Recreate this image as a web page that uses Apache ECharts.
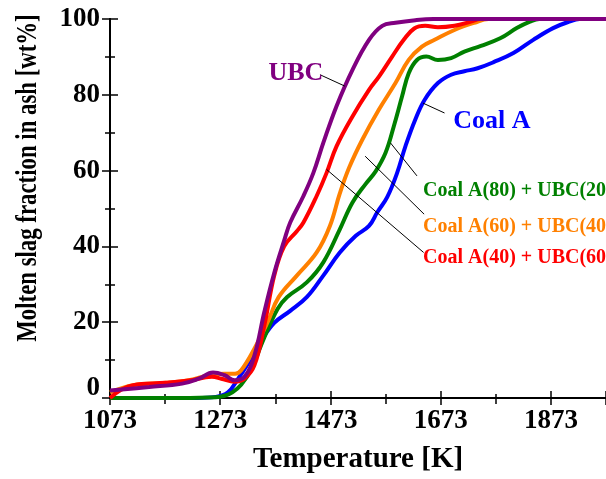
<!DOCTYPE html>
<html>
<head>
<meta charset="utf-8">
<script src="https://cdn.jsdelivr.net/npm/echarts@6/dist/echarts.min.js"></script>
<style>
  html, body { margin: 0; padding: 0; background: #fff; }
  #chart { width: 606px; height: 479px; }
</style>
</head>
<body>
<div id="chart"></div>
<script>
// temperature offset, ticks are 1073, 1273, ...
var T0 = 1073;
var xTickLabels = [1073, 1273, 1473, 1673, 1873];
var yTickLabels = [0, 20, 40, 60, 80, 100];

var coalAT = [1073, 1150, 1230, 1265, 1287, 1305, 1323, 1347, 1371, 1400, 1430, 1460, 1490, 1519, 1543, 1558, 1576, 1594, 1609, 1627, 1644, 1668, 1692, 1716, 1740, 1769, 1805, 1841, 1877, 1906, 1925, 1960, 1973];
var coalAV = [0, 0, 0, 0.3, 1.5, 5, 9, 15, 19.8, 23, 26.6, 32.3, 38.4, 42.8, 45.4, 49, 53, 59.4, 66.4, 73.5, 78.7, 83.1, 85.3, 86.2, 87, 88.6, 91.0, 94.5, 97.6, 99.3, 100, 100, 100];

var mix80T = [1073, 1200, 1265, 1281, 1295, 1311, 1329, 1353, 1377, 1394, 1430, 1460, 1490, 1513, 1537, 1555, 1573, 1588, 1603, 1615, 1630, 1647, 1668, 1692, 1716, 1746, 1781, 1811, 1835, 1852, 1890, 1973];
var mix80V = [0, 0, 0.2, 0.6, 1.5, 3.5, 7.5, 16, 23.5, 26.6, 30.5, 35.8, 44.5, 51.6, 56.5, 59.8, 64.7, 71.7, 79.6, 85.7, 89.2, 90.1, 89.2, 89.7, 91.4, 92.9, 94.9, 97.6, 99.3, 100, 100, 100];

var mix60T = [1073, 1115, 1174, 1216, 1258, 1281, 1300, 1311, 1335, 1359, 1379, 1412, 1448, 1472, 1490, 1507, 1531, 1561, 1591, 1615, 1639, 1662, 1698, 1734, 1760, 1800, 1973];
var mix60V = [1.5, 3.4, 4.0, 4.7, 6.2, 6.4, 6.4, 7.3, 13, 20, 26.6, 32.3, 38.4, 45.4, 54, 60.8, 68.2, 76.1, 83.1, 89.2, 92.7, 94.5, 97.1, 99.0, 100, 100, 100];

var mix40T = [1073, 1091, 1115, 1174, 1216, 1258, 1275, 1299, 1317, 1335, 1353, 1371, 1389, 1412, 1424, 1448, 1466, 1484, 1513, 1543, 1561, 1585, 1606, 1625, 1645, 1668, 1698, 1728, 1745, 1780, 1973];
var mix40V = [0, 2.0, 3.4, 4.0, 4.6, 5.6, 5.1, 4.3, 5.1, 8.6, 19.1, 32.3, 40.0, 44.0, 46.3, 53.3, 59.4, 66.4, 74.3, 81.3, 84.8, 90.1, 94.5, 97.5, 98.2, 97.8, 98.2, 99.3, 100, 100, 100];

var ubcT = [1073, 1144, 1204, 1234, 1260, 1281, 1299, 1317, 1335, 1353, 1371, 1389, 1400, 1424, 1442, 1460, 1484, 1513, 1543, 1567, 1591, 1627, 1660, 1700, 1973];
var ubcV = [2.0, 2.9, 3.8, 5.1, 6.7, 6.0, 4.7, 5.6, 11.2, 22.7, 33, 41.5, 46.3, 53.3, 59.4, 67.3, 77.0, 86.6, 94.5, 98.2, 99.0, 99.7, 100, 100, 100];

var seriesNames = ['Coal A', 'Coal A(80) + UBC(20)', 'Coal A(60) + UBC(40)', 'Coal A(40) + UBC(60)', 'UBC'];
var seriesColors = ['#0000ff', '#008000', '#ff8000', '#ff0000', '#800080'];
var seriesT = [coalAT, mix80T, mix60T, mix40T, ubcT];
var seriesV = [coalAV, mix80V, mix60V, mix40V, ubcV];

// label anchor [T, value] and leader line [T1, v1, T2, v2]
var labelAnchor = [[1696, 73.0], [1641, 54.7], [1641, 45.2], [1641, 37.0], [1460, 85.6]];
var leaderLine = [[1641, 77.8, 1680, 75.2], [1582, 67.3, 1630, 58.6], [1536, 63.8, 1643, 48.5], [1466, 60.3, 1642, 38.4], [1454, 85.3, 1499, 82.3]];

var font = 'Liberation Serif, Times New Roman, serif';

var series = seriesNames.map(function (name, i) {
    var big = (i == 0 || i == 4);
    var a = labelAnchor[i], l = leaderLine[i];
    return {
        name: name,
        type: 'line',
        data: seriesT[i].map(function (t, j) { return [t - T0, seriesV[i][j]]; }),
        smooth: 0.4,
        showSymbol: false,
        clip: false,
        lineStyle: { color: seriesColors[i], width: 4 },
        itemStyle: { color: seriesColors[i] },
        markLine: {
            silent: true,
            symbol: 'none',
            label: { show: false },
            lineStyle: { color: '#000', width: 1, type: 'solid' },
            data: [[{ coord: [l[0] - T0, l[1]] }, { coord: [l[2] - T0, l[3]] }]]
        },
        markPoint: {
            silent: true,
            symbol: 'circle',
            symbolSize: 0,
            data: [{
                coord: [a[0] - T0, a[1]],
                label: {
                    show: true,
                    formatter: name,
                    position: i == 4 ? 'left' : 'right',
                    distance: 0,
                    color: seriesColors[i],
                    fontFamily: font,
                    fontWeight: 'bold',
                    fontSize: big ? 26 : 20
                }
            }]
        }
    };
});

var axisLine = { show: true, lineStyle: { color: '#000', width: 2 } };
var labelStyle = { color: '#000', fontFamily: font, fontWeight: 'bold', fontSize: 27 };

var option = {
    animation: false,
    grid: { left: 110, top: 19, width: 504, height: 381 },
    xAxis: [{
        type: 'value', position: 'bottom', min: 0, max: 900, interval: 200,
        axisLine: axisLine,
        axisTick: { inside: true, length: 7, lineStyle: { color: '#000', width: 1.5 } },
        minorTick: { show: true, splitNumber: 2, length: 4, lineStyle: { color: '#000', width: 1.5 } },
        splitLine: { show: false },
        axisLabel: Object.assign({ margin: 10, showMaxLabel: false, formatter: function (v) { return String(v + T0); } }, labelStyle),
        name: 'Temperature [K]', nameLocation: 'middle', nameGap: 47,
        nameTextStyle: { color: '#000', fontFamily: font, fontWeight: 'bold', fontSize: 29 }
    }, {
        type: 'value', position: 'top', min: 0, max: 900, interval: 200,
        axisLine: axisLine,
        axisTick: { inside: true, length: 7, lineStyle: { color: '#000', width: 1.5 } },
        minorTick: { show: true, splitNumber: 2, length: 6, lineStyle: { color: '#000', width: 1.5 } },
        splitLine: { show: false },
        axisLabel: { show: false }
    }],
    yAxis: [{
        type: 'value', position: 'left', min: 0, max: 100, interval: 20,
        axisLine: axisLine,
        axisTick: { inside: true, length: 8, lineStyle: { color: '#000', width: 1.5 } },
        minorTick: { show: true, splitNumber: 2, length: 5, lineStyle: { color: '#000', width: 1.5 } },
        splitLine: { show: false },
        axisLabel: Object.assign({
            margin: 10,
            formatter: function (v) { return v == yTickLabels[0] ? '{z|' + v + '}' : String(v); },
            rich: { z: Object.assign({ padding: [0, 0, 20, 0] }, labelStyle) }
        }, labelStyle)
    }, {
        type: 'value', position: 'right', min: 0, max: 100, interval: 20,
        axisLine: axisLine,
        axisTick: { inside: true, length: 8, lineStyle: { color: '#000', width: 1.5 } },
        minorTick: { show: true, splitNumber: 2, length: 5, lineStyle: { color: '#000', width: 1.5 } },
        splitLine: { show: false },
        axisLabel: { show: false }
    }],
    graphic: [{
        type: 'text',
        x: 28, y: 178,
        rotation: Math.PI / 2,
        scaleX: 0.76,
        style: {
            text: 'Molten slag fraction in ash [wt%]',
            fill: '#000',
            font: 'bold 30px ' + font,
            align: 'center',
            verticalAlign: 'middle'
        }
    }],
    series: series
};

var chart = echarts.init(document.getElementById('chart'));
chart.setOption(option);
</script>
</body>
</html>
